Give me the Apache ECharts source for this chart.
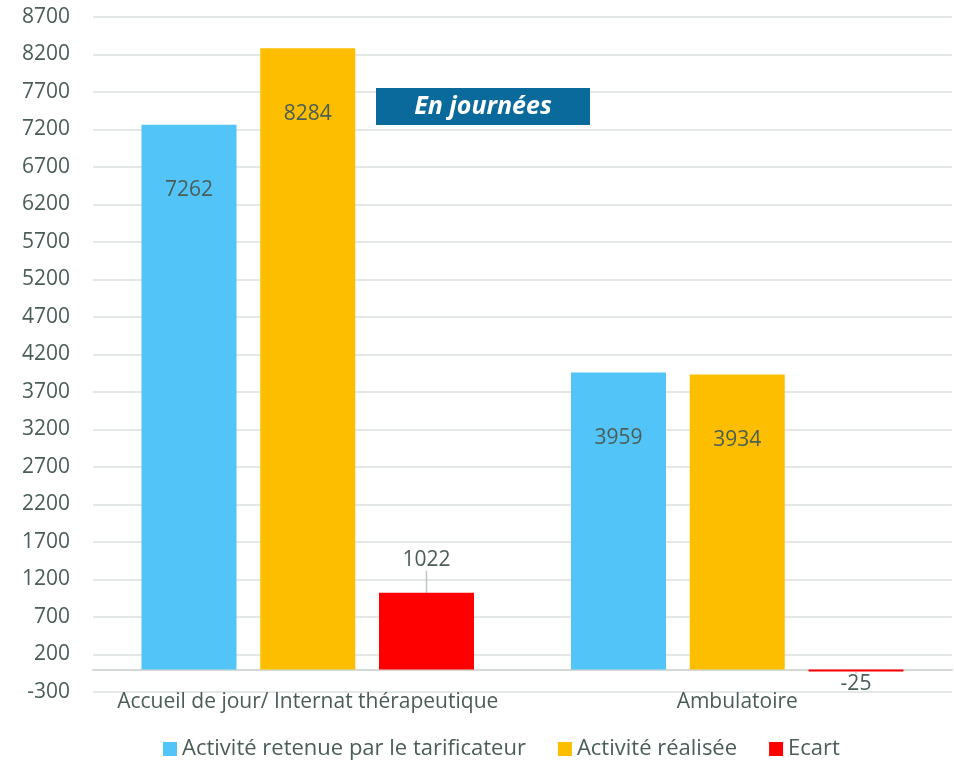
<!DOCTYPE html>
<html>
<head>
<meta charset="utf-8">
<script src="https://cdn.jsdelivr.net/npm/echarts@6/dist/echarts.min.js"></script>
<style>
  html, body { margin: 0; padding: 0; background: #fff; }
  #chart { width: 954px; height: 767px; }
</style>
</head>
<body>
<div id="chart"></div>
<script>
// données
var categories = ['Accueil de jour/ Internat thérapeutique', 'Ambulatoire'];
var retenue = [7262, 3959];
var realisee = [8284, 3934];
var ecart = [1022, -25];
var seriesNames = ['Activité retenue par le tarificateur', 'Activité réalisée', 'Ecart'];

var textColor = '#4a5e55';
var font = '"Open Sans", Lato, sans-serif';
var fs = 21;

var chart = echarts.init(document.getElementById('chart'));

var insideLabel = {
    show: true,
    position: 'insideTop',
    distance: 55,
    color: textColor,
    fontSize: fs,
    fontFamily: font
};

var option = {
    animation: false,
    textStyle: { fontFamily: font },
    grid: { left: 93, right: 2, top: 17, bottom: 75 },
    legend: {
        top: 733,
        left: 158,
        itemWidth: 14,
        itemHeight: 14,
        itemGap: 32,
        icon: 'rect',
        textStyle: { color: textColor, fontSize: 22, fontFamily: font },
        data: seriesNames
    },
    xAxis: {
        type: 'category',
        data: categories,
        axisTick: { show: false },
        axisLine: { onZero: true, lineStyle: { color: '#d4d9d6', width: 2 } },
        axisLabel: { interval: 0, color: textColor, fontSize: fs, fontFamily: font, margin: 0 }
    },
    yAxis: {
        type: 'value',
        min: -300,
        max: 8700,
        interval: 500,
        axisLine: { show: false },
        axisTick: { show: false },
        axisLabel: {
            color: textColor, fontSize: fs, fontFamily: font, margin: 23,
            formatter: function (v) { return String(v); }
        },
        splitLine: { lineStyle: { color: '#e3e8e5', width: 2 } }
    },
    graphic: [
        {
            type: 'rect',
            z: 100,
            left: 376, top: 88,
            shape: { width: 214, height: 37 },
            style: { fill: '#0a6a9c' }
        },
        {
            type: 'text',
            z: 101,
            x: 483, y: 107,
            style: {
                text: 'En journées',
                fill: '#fff',
                align: 'center',
                verticalAlign: 'middle',
                font: 'italic bold 25px ' + font
            }
        }
    ],
    series: [
        {
            name: seriesNames[0],
            type: 'bar',
            data: retenue,
            barWidth: 95,
            barGap: '25%',
            itemStyle: { color: '#53c4f8' },
            label: insideLabel
        },
        {
            name: seriesNames[1],
            type: 'bar',
            data: realisee,
            barWidth: 95,
            itemStyle: { color: '#fdbe00' },
            label: insideLabel
        },
        {
            name: seriesNames[2],
            type: 'bar',
            barWidth: 95,
            itemStyle: { color: '#fe0000' },
            data: [
                { value: ecart[0], label: { position: 'top', distance: 2 } },
                { value: ecart[1], label: { position: 'bottom', distance: 2 } }
            ],
            label: { show: true, color: textColor, fontSize: fs, fontFamily: font },
            labelLayout: function (params) {
                if (params.dataIndex === 0) {
                    return { dy: -20 };
                }
                return {};
            },
            labelLine: { show: true, lineStyle: { color: '#b9cbc3', width: 1.5 } }
        }
    ]
};

chart.setOption(option);
</script>
</body>
</html>
